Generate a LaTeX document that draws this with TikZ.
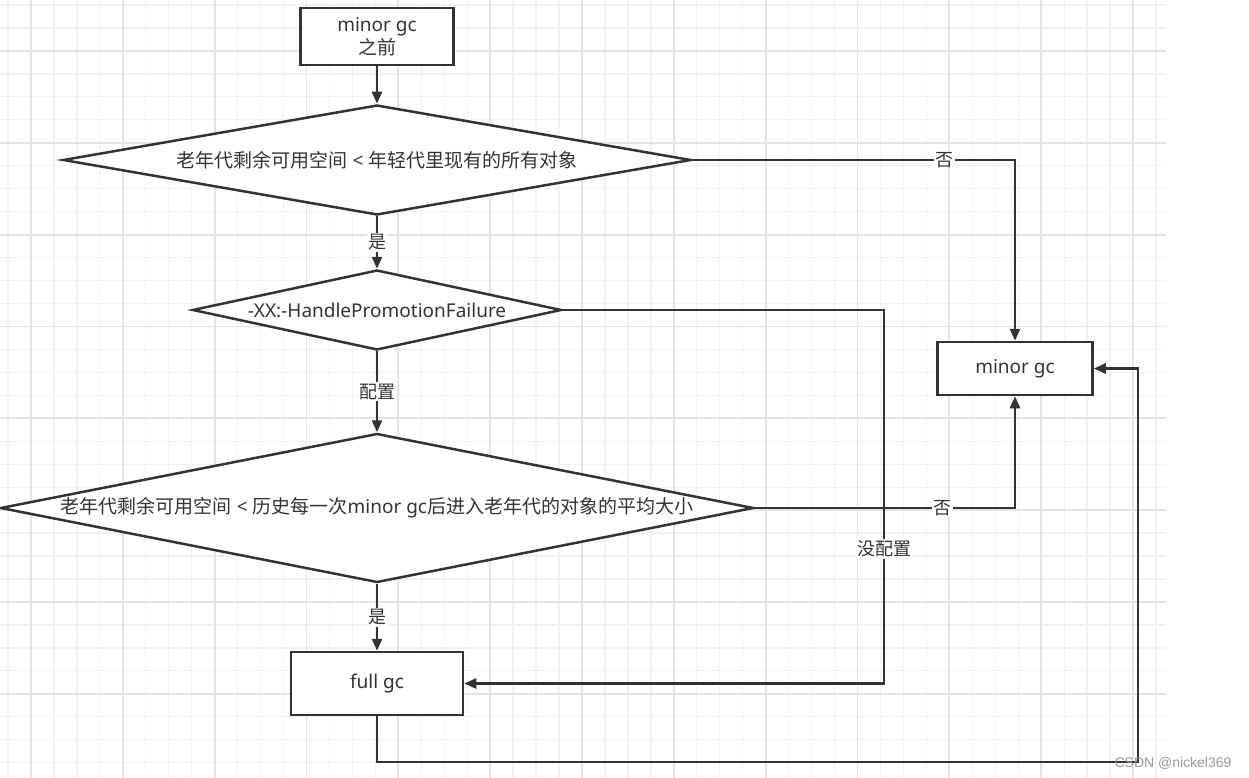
\documentclass[tikz,border=0pt]{standalone}
\usepackage{fontspec}
\setmainfont{Noto Sans CJK SC}
\newfontfamily\latinfont{Noto Sans}
\newfontfamily\markfont{Liberation Sans}
\usetikzlibrary{arrows.meta}
\usetikzlibrary{shapes.geometric}
\definecolor{ink}{HTML}{333333}
\definecolor{gridminor}{HTML}{F1F1F1}
\definecolor{gridmajor}{HTML}{E4E4E4}
\newcommand{\flatlabel}[1]{\makebox[0pt]{#1}}
\newcommand{\lt}[1]{{\latinfont #1}}

\begin{document}
\begin{tikzpicture}[
  x=1pt, y=-1pt,
  > = {Triangle[length=12pt,width=10pt]},
  every node/.style = {text=ink, font=\fontsize{19}{23}\selectfont},
  box/.style = {draw=ink, line width=2.5pt, fill=white, align=center},
  decision/.style = {diamond, draw=ink, line width=2.5pt, fill=white, inner sep=0pt},
  flow/.style = {draw=ink, line width=2.5pt},
  edge label/.style = {fill=white, inner sep=1.5pt, font=\fontsize{18}{20}\selectfont},
  grid line/.style = {draw=gridminor, line width=1.3pt},
  grid major/.style = {draw=gridmajor, line width=1.8pt}
  ]
	\fill[white] (0,0) rectangle (1249,778);
	\useasboundingbox (0,0) rectangle (1249,778);

	% grid
	\foreach \i in {0,...,50}
	  \draw[grid line] ({8+22.96*\i},0) -- ({8+22.96*\i},778);
	\foreach \j in {0,...,33}
	  \draw[grid line] (0,{5+22.96*\j}) -- (1166,{5+22.96*\j});
	\foreach \i in {1,5,...,49}
	  \draw[grid major] ({8+22.96*\i},0) -- ({8+22.96*\i},778);
	\foreach \j in {2,6,...,30}
	  \draw[grid major] (0,{5+22.96*\j}) -- (1166,{5+22.96*\j});

	% steps
	\node[box, minimum width=153pt, minimum height=57pt] (start) at (377,36.5) {\lt{minor gc}\\之前};
	\node[decision, minimum width=628pt, minimum height=110pt] (old) at (377,160)
	  {\flatlabel{老年代剩余可用空间\lt{ < }年轻代里现有的所有对象}};
	\node[decision, minimum width=369pt, minimum height=80pt] (flag) at (377,310)
	  {\flatlabel{\lt{-XX:-HandlePromotionFailure}}};
	\node[decision, minimum width=753pt, minimum height=149pt] (avg) at (377,508)
	  {\flatlabel{老年代剩余可用空间\lt{ < }历史每一次\lt{minor gc}后进入老年代的对象的平均大小}};
	\node[box, minimum width=172pt, minimum height=63pt] (full) at (377,683.5) {\lt{full gc}};
	\node[box, minimum width=155pt, minimum height=53pt] (minor) at (1015,368.5) {\lt{minor gc}};

	\coordinate (nocfg) at (884,310);
	\coordinate (loop) at (1138,762);

	% connectors
	\draw[flow,->] (start) -- (old);
	\draw[flow,->] (old) -- node[edge label] {是} (flag);
	\draw[flow,->] (flag) -- node[edge label] {配置} (avg);
	\draw[flow,->] (avg) -- node[edge label] {是} (full);
	\draw[flow,->] (old.east) -| node[edge label, pos=0.39] {否} (minor.north);
	\draw[flow,->] (avg.east) -| node[edge label, pos=0.36] {否} (minor.south);
	\draw[flow,->] (flag.east) -- (nocfg) |- node[edge label, pos=0.32] {没配置} (full.east);
	\draw[flow,->] (full.south) |- (loop) |- (minor.east);

	\node[text=gray!80, font=\markfont\fontsize{14}{16}\selectfont] (mark) at (1173,763) {CSDN @nickel369};
\end{tikzpicture}
\end{document}
